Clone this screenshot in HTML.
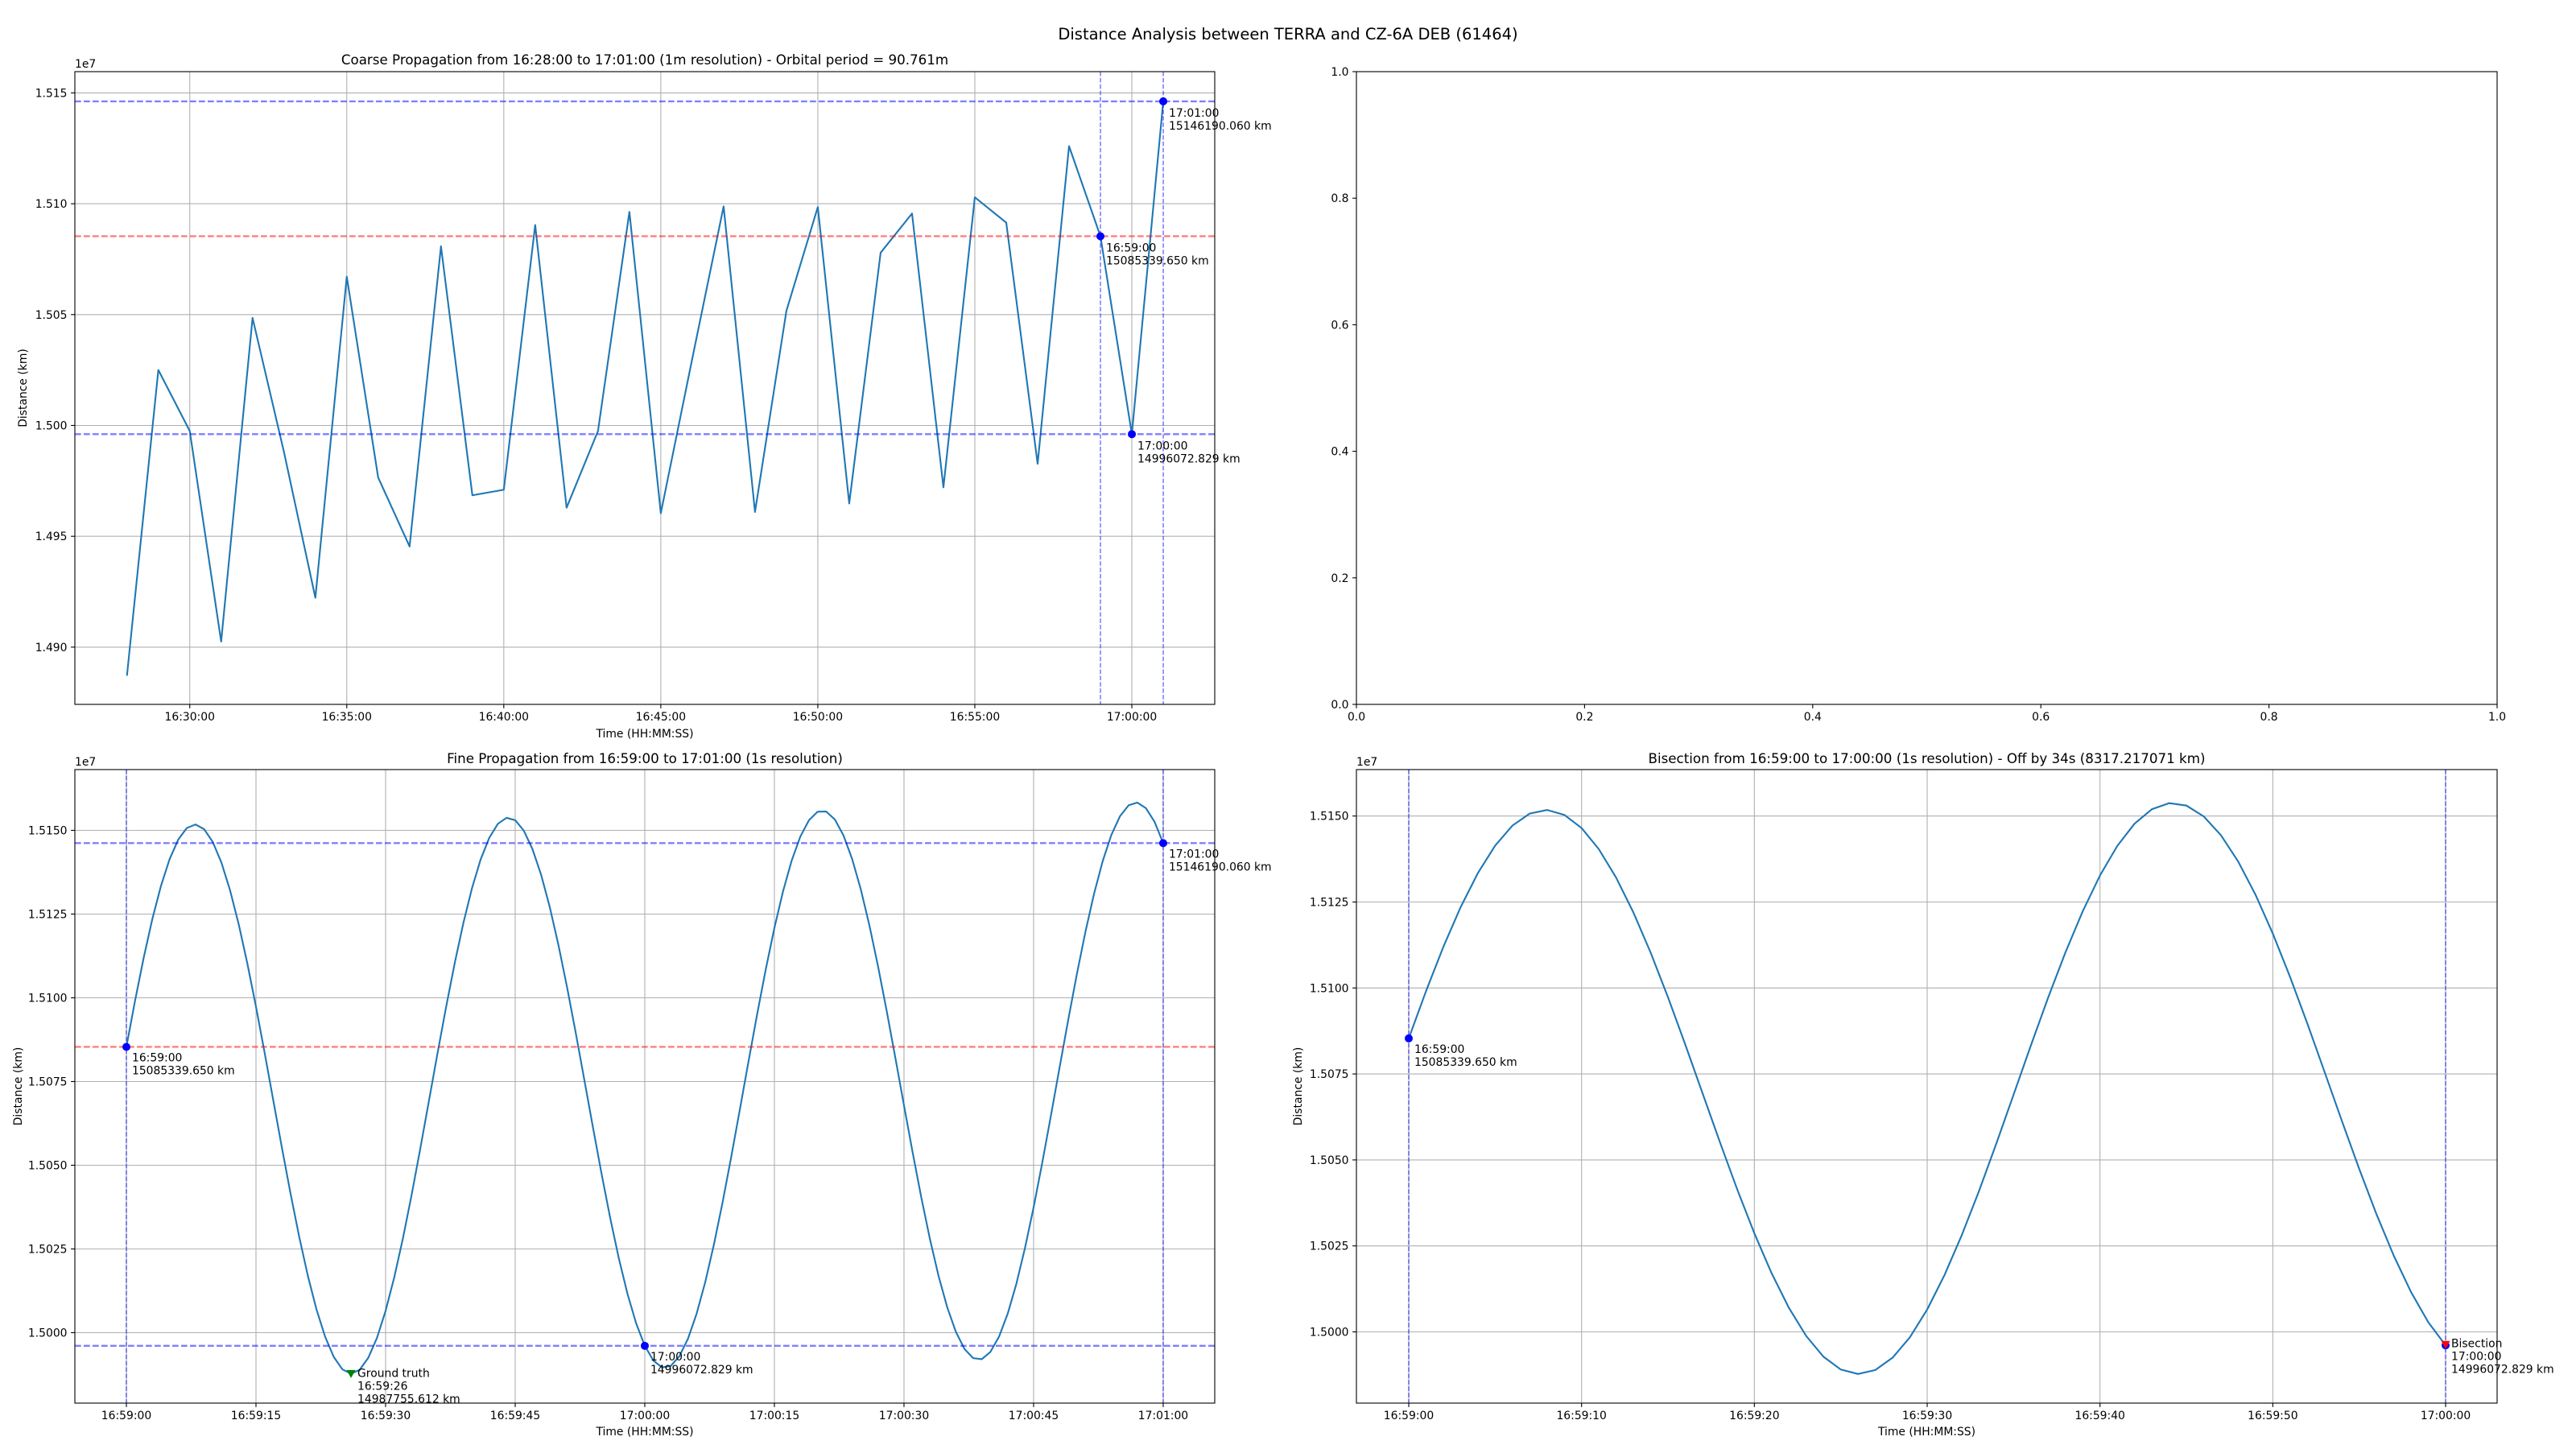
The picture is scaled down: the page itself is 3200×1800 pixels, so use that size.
<!DOCTYPE html>
<html><head><meta charset="utf-8"><style>
html,body{margin:0;padding:0;background:#fff;}
svg{display:block;font-family:"DejaVu Sans","Liberation Sans",sans-serif;}
</style></head><body>
<svg id="s" width="3200" height="1800" viewBox="0 0 3200 1800" xmlns="http://www.w3.org/2000/svg"></svg>
<script>
var o=[];
function T(x,y,s,a,extra){o.push('<text x="'+x+'" y="'+y+'" font-size="'+(a&&a.fs||13.9)+'" text-anchor="'+(a&&a.anc||'start')+'"'+(extra||'')+'>'+s+'</text>');}
function L(x1,y1,x2,y2,st){o.push('<line x1="'+x1+'" y1="'+y1+'" x2="'+x2+'" y2="'+y2+'" '+st+'/>');}
function P(pts,st){o.push('<polyline fill="none" points="'+pts.map(function(p){return p[0].toFixed(2)+','+p[1].toFixed(2)}).join(' ')+'" '+st+'/>');}
var GRID='stroke="#b0b0b0" stroke-width="1.1"';
var TICK='stroke="#000" stroke-width="1.1"';
var BL='stroke="#0000ff" stroke-opacity="0.5" stroke-width="2.4" stroke-dasharray="7.7,3.3"';
var BLV='stroke="#0000ff" stroke-opacity="0.5" stroke-width="1.6" stroke-dasharray="5.5,2.4"';
var RD='stroke="#ff0000" stroke-opacity="0.5" stroke-width="2.4" stroke-dasharray="7.7,3.3"';
var CUR='stroke="#1f77b4" stroke-width="2.1" stroke-linejoin="round"';
function axes(x0,y0,x1,y1,xt,yt){
  xt.forEach(function(t){L(t[0],y0,t[0],y1,GRID);});
  yt.forEach(function(t){L(x0,t[0],x1,t[0],GRID);});
}
function frame(x0,y0,x1,y1,xt,yt){
  o.push('<rect x="'+x0+'" y="'+y0+'" width="'+(x1-x0)+'" height="'+(y1-y0)+'" fill="none" stroke="#000" stroke-width="1.1"/>');
  xt.forEach(function(t){L(t[0],y1,t[0],y1+4.9,TICK);T(t[0],y1+20,t[1],{anc:'middle'});});
  yt.forEach(function(t){L(x0-4.9,t[0],x0,t[0],TICK);T(x0-9.5,t[0]+5,t[1],{anc:'end'});});
}
function dot(x,y,c){o.push('<circle cx="'+x+'" cy="'+y+'" r="5" fill="'+(c||'#0000ff')+'"/>');}
function tri(x,y,c){o.push('<polygon points="'+(x-5.5)+','+(y-4.5)+' '+(x+5.5)+','+(y-4.5)+' '+x+','+(y+5.5)+'" fill="'+c+'"/>');}

T(1600,49,'Distance Analysis between TERRA and CZ-6A DEB (61464)',{anc:'middle',fs:19.5});

(function(){
var x0=93,x1=1509,y0=89,y1=875;
function X(m){return 157.7+39.01*m;}
function Y(v){return 115.4+(1.515-v)/0.005*137.7;}
var xt=[],yt=[];
for(var i=0;i<7;i++){var m=2+5*i;var mm=30+5*i;var hh=16;if(mm>=60){mm-=60;hh=17;}xt.push([X(m),hh+':'+(mm<10?'0':'')+mm+':00']);}
for(var k=0;k<6;k++){var v=1.490+0.005*k;yt.push([Y(v),v.toFixed(3)]);}
axes(x0,y0,x1,y1,xt,yt);
var d=[1.48871,1.50250,1.49975,1.49025,1.50485,1.4988,1.49223,1.50671,1.49765,1.49454,1.50808,1.49685,1.4971,1.50904,1.49629,1.49975,1.50963,1.49604,1.50300,1.50988,1.4961,1.50517,1.50985,1.49648,1.50779,1.50956,1.49721,1.51029,1.50915,1.49827,1.5126,1.5085339650,1.4996072829,1.5146190060];
P(d.map(function(v,i){return [X(i),Y(v)];}),CUR);
L(x0,Y(1.5146190060),x1,Y(1.5146190060),BL);
L(x0,Y(1.4996072829),x1,Y(1.4996072829),BL);
L(x0,Y(1.5085339650),x1,Y(1.5085339650),RD);
L(X(31),y0,X(31),y1,BLV);L(X(33),y0,X(33),y1,BLV);
frame(x0,y0,x1,y1,xt,yt);
[[31,1.5085339650,'16:59:00','15085339.650 km'],[32,1.4996072829,'17:00:00','14996072.829 km'],[33,1.5146190060,'17:01:00','15146190.060 km']].forEach(function(p){
 var x=X(p[0]),y=Y(p[1]);dot(x,y);T(x+7,y+19,p[2]);T(x+7,y+35,p[3]);});
T((x0+x1)/2,80,'Coarse Propagation from 16:28:00 to 17:01:00 (1m resolution) - Orbital period = 90.761m',{anc:'middle',fs:16.7});
T(93,84,'1e7');
T((x0+x1)/2,916,'Time (HH:MM:SS)',{anc:'middle'});
T(0,0,'Distance (km)',{anc:'middle'},' transform="translate(33,'+((y0+y1)/2)+') rotate(-90)"');
})();

(function(){
var x0=1685,x1=3102,y0=89,y1=875;var xt=[],yt=[];
for(var i=0;i<6;i++){var f=i/5;xt.push([x0+f*(x1-x0),f.toFixed(1)]);yt.push([y1-f*(y1-y0),f.toFixed(1)]);}
frame(x0,y0,x1,y1,xt,yt);
})();

var anchors=[[0,1.5085339650],[26,1.4987755612],[60,1.4996072829],[120,1.5146190060]];
function base(t){return 1.50704+0.0000055*(t-17)+0.00826*Math.cos(2*Math.PI*(t-7.9)/36.3);}
function corr(t){for(var i=0;i<anchors.length-1;i++){var a=anchors[i],b=anchors[i+1];if(t>=a[0]&&t<=b[0]){var ea=a[1]-base(a[0]),eb=b[1]-base(b[0]);return ea+(eb-ea)*(t-a[0])/(b[0]-a[0]);}}return 0;}
function F(t){return base(t)+corr(t);}

(function(){
var x0=93,x1=1509,y0=956,y1=1743;
function X(t){return 157+10.733*t;}
function Y(v){return 1031.5+(1.515-v)/0.0025*104;}
var lab=['16:59:00','16:59:15','16:59:30','16:59:45','17:00:00','17:00:15','17:00:30','17:00:45','17:01:00'];
var xt=lab.map(function(s,i){return [X(15*i),s];});
var yt=[];for(var k=0;k<7;k++){var v=1.5+0.0025*k;yt.push([Y(v),v.toFixed(4)]);}
axes(x0,y0,x1,y1,xt,yt);
var pts=[];for(var t=0;t<=120;t++)pts.push([X(t),Y(F(t))]);
P(pts,CUR);
L(x0,Y(1.5146190060),x1,Y(1.5146190060),BL);
L(x0,Y(1.4996072829),x1,Y(1.4996072829),BL);
L(x0,Y(1.5085339650),x1,Y(1.5085339650),RD);
L(X(0),y0,X(0),y1,BLV);L(X(120),y0,X(120),y1,BLV);
frame(x0,y0,x1,y1,xt,yt);
[[0,1.5085339650,'16:59:00','15085339.650 km'],[60,1.4996072829,'17:00:00','14996072.829 km'],[120,1.5146190060,'17:01:00','15146190.060 km']].forEach(function(p){
 var x=X(p[0]),y=Y(p[1]);dot(x,y);T(x+7,y+18,p[2]);T(x+7,y+34,p[3]);});
var gx=X(26),gy=Y(1.4987755612);tri(gx,gy,'#008000');
T(gx+8,gy+4,'Ground truth');T(gx+8,gy+20,'16:59:26');T(gx+8,gy+36,'14987755.612 km');
T((x0+x1)/2,948,'Fine Propagation from 16:59:00 to 17:01:00 (1s resolution)',{anc:'middle',fs:16.7});
T(93,951,'1e7');
T((x0+x1)/2,1783,'Time (HH:MM:SS)',{anc:'middle'});
T(0,0,'Distance (km)',{anc:'middle'},' transform="translate(27,'+((y0+y1)/2)+') rotate(-90)"');
})();

(function(){
var x0=1685,x1=3102,y0=956,y1=1743;
function X(t){return 1750+21.467*t;}
function Y(v){return 1013.7+(1.515-v)/0.0025*106.8;}
var lab=['16:59:00','16:59:10','16:59:20','16:59:30','16:59:40','16:59:50','17:00:00'];
var xt=lab.map(function(s,i){return [X(10*i),s];});
var yt=[];for(var k=0;k<7;k++){var v=1.5+0.0025*k;yt.push([Y(v),v.toFixed(4)]);}
axes(x0,y0,x1,y1,xt,yt);
var pts=[];for(var t=0;t<=60;t++)pts.push([X(t),Y(F(t))]);
P(pts,CUR);
L(X(0),y0,X(0),y1,BLV);L(X(60),y0,X(60),y1,BLV);
frame(x0,y0,x1,y1,xt,yt);
var x=X(0),y=Y(1.5085339650);dot(x,y);T(x+7,y+18,'16:59:00');T(x+7,y+34,'15085339.650 km');
x=X(60);y=Y(1.4996072829);dot(x,y);tri(x,y-1,'#ff0000');
T(x+7,y+2,'Bisection');T(x+7,y+18,'17:00:00');T(x+7,y+34,'14996072.829 km');
T((x0+x1)/2,948,'Bisection from 16:59:00 to 17:00:00 (1s resolution) - Off by 34s (8317.217071 km)',{anc:'middle',fs:16.7});
T(1685,951,'1e7');
T((x0+x1)/2,1783,'Time (HH:MM:SS)',{anc:'middle'});
T(0,0,'Distance (km)',{anc:'middle'},' transform="translate(1617,'+((y0+y1)/2)+') rotate(-90)"');
})();
document.getElementById('s').innerHTML=o.join('');
</script>
</body></html>
